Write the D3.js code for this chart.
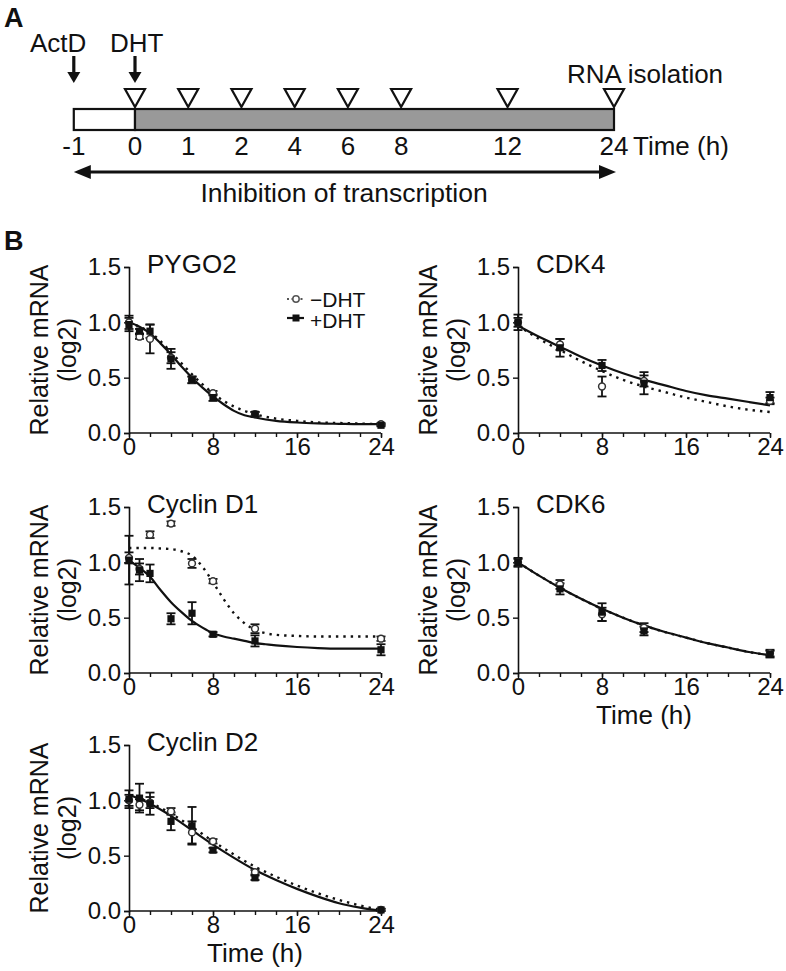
<!DOCTYPE html>
<html>
<head>
<meta charset="utf-8">
<script src="https://cdn.jsdelivr.net/npm/d3@7"></script>
<style>
  html, body { margin: 0; padding: 0; background: #fff; }
  svg { display: block; font-family: "Liberation Sans", Arial, sans-serif; }
</style>
</head>
<body>
<svg id="chart" width="786" height="971"></svg>
<script>
// ---------------- Panel A data ----------------
const timelineLabels = ["-1", "0", "1", "2", "4", "6", "8", "12", "24"];
const timelineSlot   = [-1.15, 0, 1, 2, 3, 4, 5, 7, 9];   // schematic (non-linear) spacing
const sampledLabels  = ["0", "1", "2", "4", "6", "8", "12", "24"];

// ---------------- Panel B data ----------------
const times    = [0, 1, 2, 4, 6, 8, 12, 24];
const timesCDK = [0, 4, 8, 12, 24];
const xTicks   = [0, 8, 16, 24];
const yTicks   = [0, 0.5, 1.0, 1.5];

// PYGO2
const pygo2Plus      = [0.98, 0.92, 0.92, 0.67, 0.48, 0.32, 0.17, 0.07];
const pygo2PlusErr   = [0.06, 0.02, 0.06, 0.09, 0.03, 0.03, 0.02, 0.01];
const pygo2Minus     = [1.00, 0.87, 0.85, 0.68, 0.48, 0.36, 0.17, 0.08];
const pygo2MinusErr  = [0.06, 0.02, 0.13, 0.05, 0.03, 0.02, 0.02, 0.01];
const pygo2FitT      = [0, 1, 2, 3, 4, 5, 6, 7, 8, 9, 10, 11, 12, 14, 16, 18, 20, 22, 24];
const pygo2PlusFit   = [1.0, 0.96, 0.9, 0.81, 0.71, 0.6, 0.5, 0.41, 0.33, 0.26, 0.2, 0.16, 0.14, 0.11, 0.095, 0.087, 0.083, 0.08, 0.08];
const pygo2MinusFit  = [1.0, 0.96, 0.91, 0.83, 0.73, 0.63, 0.53, 0.44, 0.36, 0.29, 0.24, 0.2, 0.17, 0.13, 0.11, 0.095, 0.09, 0.085, 0.08];

// CDK4
const cdk4Plus      = [1.00, 0.77, 0.61, 0.45, 0.32];
const cdk4PlusErr   = [0.07, 0.08, 0.05, 0.10, 0.05];
const cdk4Minus     = [1.00, 0.80, 0.42, 0.47, 0.29];
const cdk4MinusErr  = [0.04, 0.05, 0.09, 0.05, 0.03];
const cdk4FitT      = [0, 2, 4, 6, 8, 10, 12, 14, 16, 18, 20, 22, 24];
const cdk4PlusFit   = [0.97, 0.87, 0.78, 0.69, 0.61, 0.54, 0.48, 0.43, 0.38, 0.34, 0.31, 0.28, 0.25];
const cdk4MinusFit  = [0.97, 0.85, 0.75, 0.65, 0.56, 0.48, 0.42, 0.37, 0.32, 0.28, 0.24, 0.21, 0.19];

// Cyclin D1
const ccnd1Plus      = [1.02, 0.93, 0.90, 0.49, 0.54, 0.35, 0.29, 0.21];
const ccnd1PlusErr   = [0.22, 0.10, 0.08, 0.05, 0.10, 0.02, 0.05, 0.05];
const ccnd1Minus     = [1.04, 0.94, 1.25, 1.35, 0.99, 0.83, 0.40, 0.31];
const ccnd1MinusErr  = [0.05, 0.05, 0.03, 0.02, 0.04, 0.02, 0.04, 0.02];
const ccnd1FitT      = [0, 1, 2, 3, 4, 5, 6, 7, 8, 9, 10, 11, 12, 13, 14, 16, 18, 20, 22, 24];
const ccnd1PlusFit   = [1.02, 0.95, 0.87, 0.75, 0.64, 0.55, 0.47, 0.41, 0.36, 0.33, 0.31, 0.29, 0.27, 0.26, 0.25, 0.235, 0.225, 0.22, 0.22, 0.22];
const ccnd1MinusFit  = [1.13, 1.13, 1.13, 1.125, 1.12, 1.1, 1.06, 0.96, 0.82, 0.67, 0.54, 0.45, 0.39, 0.36, 0.345, 0.335, 0.33, 0.33, 0.33, 0.33];

// CDK6
const cdk6Plus      = [1.00, 0.76, 0.55, 0.38, 0.17];
const cdk6PlusErr   = [0.04, 0.05, 0.08, 0.04, 0.03];
const cdk6Minus     = [1.00, 0.80, 0.53, 0.41, 0.18];
const cdk6MinusErr  = [0.03, 0.04, 0.06, 0.04, 0.03];
const cdk6FitT      = [0, 2, 4, 6, 8, 10, 12, 14, 16, 18, 20, 22, 24];
const cdk6PlusFit   = [1.0, 0.88, 0.77, 0.67, 0.58, 0.5, 0.43, 0.37, 0.32, 0.27, 0.23, 0.19, 0.16];
const cdk6MinusFit  = [1.0, 0.88, 0.77, 0.67, 0.58, 0.5, 0.43, 0.37, 0.32, 0.27, 0.23, 0.19, 0.16];

// Cyclin D2
const ccnd2Plus      = [1.01, 1.02, 0.97, 0.81, 0.77, 0.55, 0.30, 0.01];
const ccnd2PlusErr   = [0.08, 0.13, 0.10, 0.08, 0.17, 0.02, 0.02, 0.01];
const ccnd2Minus     = [1.00, 0.96, 0.98, 0.90, 0.71, 0.63, 0.35, 0.01];
const ccnd2MinusErr  = [0.05, 0.05, 0.05, 0.03, 0.10, 0.02, 0.02, 0.01];
const ccnd2FitT      = [0, 2, 4, 6, 8, 10, 12, 14, 16, 18, 20, 22, 24];
const ccnd2PlusFit   = [1.05, 0.97, 0.86, 0.73, 0.6, 0.48, 0.37, 0.28, 0.2, 0.13, 0.07, 0.03, 0.0];
const ccnd2MinusFit  = [1.05, 0.98, 0.88, 0.76, 0.63, 0.51, 0.40, 0.31, 0.23, 0.16, 0.10, 0.05, 0.01];

const panels = [
  { name: "PYGO2",     row: 0, col: 0, t: times,    plus: pygo2Plus, plusErr: pygo2PlusErr, minus: pygo2Minus, minusErr: pygo2MinusErr, fitT: pygo2FitT, plusFit: pygo2PlusFit, minusFit: pygo2MinusFit, legend: true },
  { name: "CDK4",      row: 0, col: 1, t: timesCDK, plus: cdk4Plus,  plusErr: cdk4PlusErr,  minus: cdk4Minus,  minusErr: cdk4MinusErr,  fitT: cdk4FitT,  plusFit: cdk4PlusFit,  minusFit: cdk4MinusFit },
  { name: "Cyclin D1", row: 1, col: 0, t: times,    plus: ccnd1Plus, plusErr: ccnd1PlusErr, minus: ccnd1Minus, minusErr: ccnd1MinusErr, fitT: ccnd1FitT, plusFit: ccnd1PlusFit, minusFit: ccnd1MinusFit },
  { name: "CDK6",      row: 1, col: 1, t: timesCDK, plus: cdk6Plus,  plusErr: cdk6PlusErr,  minus: cdk6Minus,  minusErr: cdk6MinusErr,  fitT: cdk6FitT,  plusFit: cdk6PlusFit,  minusFit: cdk6MinusFit, xLabel: true },
  { name: "Cyclin D2", row: 2, col: 0, t: times,    plus: ccnd2Plus, plusErr: ccnd2PlusErr, minus: ccnd2Minus, minusErr: ccnd2MinusErr, fitT: ccnd2FitT, plusFit: ccnd2PlusFit, minusFit: ccnd2MinusFit, xLabel: true }
];

// ---------------- Drawing ----------------
const svg = d3.select("#chart");
const INK = "#111";

// ===== Panel A =====
const gA = svg.append("g");
gA.append("text").attr("x", 4).attr("y", 27).attr("font-size", 27).attr("font-weight", "bold").attr("fill", INK).text("A");

const xA = d3.scaleLinear().domain([0, 9]).range([135, 614]);
const barTop = 109, barH = 21;
const xStart = xA(timelineSlot[0]);

gA.append("rect").attr("x", xStart).attr("y", barTop).attr("width", xA(0) - xStart).attr("height", barH)
  .attr("fill", "#fff").attr("stroke", INK).attr("stroke-width", 2.2);
gA.append("rect").attr("x", xA(0)).attr("y", barTop).attr("width", xA(9) - xA(0)).attr("height", barH)
  .attr("fill", "#999").attr("stroke", INK).attr("stroke-width", 2.2);

// triangles for sampling points
sampledLabels.forEach(lbl => {
  const i = timelineLabels.indexOf(lbl);
  const cx = xA(timelineSlot[i]);
  gA.append("path")
    .attr("d", `M${cx - 10},${89} L${cx + 10},${89} L${cx},${107} Z`)
    .attr("fill", "#fff").attr("stroke", INK).attr("stroke-width", 2.2).attr("stroke-linejoin", "miter");
});

// timeline tick labels
timelineLabels.forEach((lbl, i) => {
  gA.append("text").attr("x", xA(timelineSlot[i])).attr("y", 155).attr("text-anchor", "middle")
    .attr("font-size", 26).attr("fill", INK).text(lbl);
});
gA.append("text").attr("x", 633).attr("y", 155).attr("font-size", 26).attr("fill", INK).text("Time (h)");
gA.append("text").attr("x", 567).attr("y", 83).attr("font-size", 26).attr("fill", INK).text("RNA isolation");

// ActD / DHT labels and arrows
function downArrow(x, y1, y2) {
  gA.append("line").attr("x1", x).attr("x2", x).attr("y1", y1).attr("y2", y2 - 8)
    .attr("stroke", INK).attr("stroke-width", 3.2);
  gA.append("path").attr("d", `M${x - 6.5},${y2 - 11} L${x + 6.5},${y2 - 11} L${x},${y2} Z`).attr("fill", INK);
}
gA.append("text").attr("x", 30).attr("y", 52).attr("font-size", 26).attr("fill", INK).text("ActD");
gA.append("text").attr("x", 110).attr("y", 52).attr("font-size", 26).attr("fill", INK).text("DHT");
downArrow(xStart, 56, 83);
downArrow(xA(0), 56, 83);

// double-headed arrow
const arrY = 172;
gA.append("line").attr("x1", xStart + 10).attr("x2", xA(9) - 10).attr("y1", arrY).attr("y2", arrY)
  .attr("stroke", INK).attr("stroke-width", 3.2);
gA.append("path").attr("d", `M${xStart},${arrY} L${xStart + 17},${arrY - 7} L${xStart + 17},${arrY + 7} Z`).attr("fill", INK);
gA.append("path").attr("d", `M${xA(9) + 2},${arrY} L${xA(9) - 15},${arrY - 7} L${xA(9) - 15},${arrY + 7} Z`).attr("fill", INK);
gA.append("text").attr("x", 344).attr("y", 202).attr("text-anchor", "middle")
  .attr("font-size", 26.5).attr("fill", INK).text("Inhibition of transcription");

// ===== Panel B =====
svg.append("text").attr("x", 4).attr("y", 250).attr("font-size", 27).attr("font-weight", "bold").attr("fill", INK).text("B");

const colX = [129, 518];
const rowY = [267, 507, 745];
const plotW = 252, plotH = 166;

const lineGen = (xs, ys) => d3.line().curve(d3.curveMonotoneX)
  .x(d => xs(d[0])).y(d => ys(d[1]));

panels.forEach(p => {
  const g = svg.append("g").attr("transform", `translate(${colX[p.col]},${rowY[p.row]})`);
  const x = d3.scaleLinear().domain([0, 24]).range([0, plotW]);
  const y = d3.scaleLinear().domain([0, 1.5]).range([plotH, 0]);

  // axes
  const xAxisMinor = d3.axisBottom(x).tickValues(d3.range(0, 25, 2)).tickSize(4).tickFormat("");
  const gxm = g.append("g").attr("transform", `translate(0,${plotH})`).call(xAxisMinor);
  const xAxis = d3.axisBottom(x).tickValues(xTicks).tickSize(5).tickPadding(0).tickFormat(d3.format("d"));
  const gx = g.append("g").attr("transform", `translate(0,${plotH})`).call(xAxis);
  const yAxis = d3.axisLeft(y).tickValues(yTicks).tickSize(5).tickPadding(3).tickFormat(d3.format(".1f"));
  const gy = g.append("g").call(yAxis);
  [gx, gy, gxm].forEach(a => {
    a.attr("font-family", null);
    a.select(".domain").attr("stroke", INK).attr("stroke-width", 1.6);
    a.selectAll(".tick line").attr("stroke", INK).attr("stroke-width", 1.4);
    a.selectAll(".tick text").attr("font-size", 24).attr("fill", INK);
  });
  gx.select(".domain").remove();
  gxm.select(".domain").attr("d", `M0,0H${plotW}`);

  // titles
  g.append("text").attr("x", 18).attr("y", 6).attr("font-size", 26).attr("fill", INK).text(p.name);

  // y label
  const yl = g.append("text").attr("transform", `translate(-81,${plotH / 2}) rotate(-90)`)
    .attr("text-anchor", "middle").attr("font-size", 25).attr("fill", INK);
  yl.append("tspan").attr("x", 0).attr("y", 0).text("Relative mRNA");
  yl.append("tspan").attr("x", 0).attr("y", 28).text("(log2)");

  if (p.xLabel) {
    g.append("text").attr("x", plotW / 2).attr("y", plotH + 51).attr("text-anchor", "middle")
      .attr("font-size", 26).attr("fill", INK).text("Time (h)");
  }

  // fitted curves
  g.append("path").datum(p.fitT.map((t, i) => [t, p.minusFit[i]]))
    .attr("d", lineGen(x, y)).attr("fill", "none").attr("stroke", INK)
    .attr("stroke-width", 2.4).attr("stroke-dasharray", "2.4,5");
  g.append("path").datum(p.fitT.map((t, i) => [t, p.plusFit[i]]))
    .attr("d", lineGen(x, y)).attr("fill", "none").attr("stroke", INK).attr("stroke-width", 2.2);

  // error bars
  function errBars(vals, errs) {
    p.t.forEach((t, i) => {
      const cx = x(t), lo = y(vals[i] - errs[i]), hi = y(vals[i] + errs[i]);
      g.append("line").attr("x1", cx).attr("x2", cx).attr("y1", lo).attr("y2", hi).attr("stroke", INK).attr("stroke-width", 1.8);
      g.append("line").attr("x1", cx - 4.5).attr("x2", cx + 4.5).attr("y1", lo).attr("y2", lo).attr("stroke", INK).attr("stroke-width", 1.8);
      g.append("line").attr("x1", cx - 4.5).attr("x2", cx + 4.5).attr("y1", hi).attr("y2", hi).attr("stroke", INK).attr("stroke-width", 1.8);
    });
  }
  errBars(p.minus, p.minusErr);
  errBars(p.plus, p.plusErr);

  // -DHT open circles
  g.selectAll(".minus").data(p.t.map((t, i) => [t, p.minus[i]])).enter().append("circle")
    .attr("cx", d => x(d[0])).attr("cy", d => y(d[1])).attr("r", 3.4)
    .attr("fill", "#fff").attr("stroke", "#333").attr("stroke-width", 1.5);
  // +DHT filled squares
  g.selectAll(".plus").data(p.t.map((t, i) => [t, p.plus[i]])).enter().append("rect")
    .attr("x", d => x(d[0]) - 3.6).attr("y", d => y(d[1]) - 3.6).attr("width", 7.2).attr("height", 7.2)
    .attr("fill", INK);

  if (p.legend) {
    const lg = g.append("g").attr("transform", "translate(158,0)");
    // -DHT
    lg.append("line").attr("x1", 0).attr("x2", 17).attr("y1", 32).attr("y2", 32)
      .attr("stroke", "#555").attr("stroke-width", 2).attr("stroke-dasharray", "2,2.5");
    lg.append("circle").attr("cx", 9).attr("cy", 32).attr("r", 3.2).attr("fill", "#fff").attr("stroke", "#555").attr("stroke-width", 1.5);
    lg.append("text").attr("x", 23).attr("y", 40).attr("font-size", 21).attr("fill", INK).text("\u2212DHT");
    // +DHT
    lg.append("line").attr("x1", 0).attr("x2", 17).attr("y1", 51).attr("y2", 51)
      .attr("stroke", INK).attr("stroke-width", 2.2);
    lg.append("rect").attr("x", 5.5).attr("y", 47.5).attr("width", 7).attr("height", 7).attr("fill", INK);
    lg.append("text").attr("x", 23).attr("y", 61).attr("font-size", 21).attr("fill", INK).text("+DHT");
  }
});
</script>
</body>
</html>
